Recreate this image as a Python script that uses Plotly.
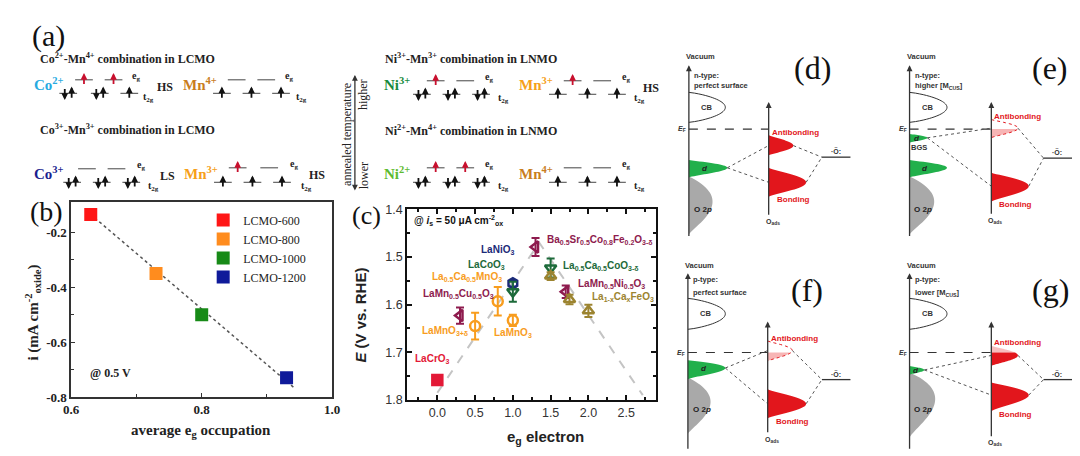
import numpy as np
import plotly.graph_objects as go

# ---------------- Panel (b) data ----------------
b_labels = ["LCMO-600", "LCMO-800", "LCMO-1000", "LCMO-1200"]
b_eg = [0.63, 0.73, 0.80, 0.93]
b_i = [-0.135, -0.35, -0.50, -0.73]
b_fit_x = [0.636, 0.941]
b_fit_y = [-0.147, -0.765]
b_xticks = [0.6, 0.8, 1.0]
b_yticks = [-0.8, -0.6, -0.4, -0.2]
b_colors = ["#ff1616", "#ff8c1e", "#178a17", "#0f1a9a"]

# ---------------- Panel (c) data ----------------
c_names = ["LaCrO3", "LaMn0.5Cu0.5O3", "LaMnO3+d", "La0.5Ca0.5MnO3", "LaMnO3",
           "LaNiO3", "LaCoO3", "BSCF", "La0.5Ca0.5CoO3-d", "LaMn0.5Ni0.5O3",
           "La1-xCaxFeO3 a", "La1-xCaxFeO3 b", "La1-xCaxFeO3 c"]
c_eg = [0.0, 0.3, 0.5, 0.8, 1.0, 1.0, 1.0, 1.3, 1.5, 1.7, 1.5, 1.75, 2.0]
c_E = [1.758, 1.623, 1.645, 1.593, 1.633, 1.555, 1.573, 1.479, 1.523, 1.573, 1.540, 1.589, 1.613]
c_err = [0.008, 0.017, 0.028, 0.030, 0.012, 0.007, 0.021, 0.019, 0.020, 0.013, 0.008, 0.010, 0.013]
c_volcano_x = [0.0, 1.35, 2.72]
c_volcano_y = [1.785, 1.47, 1.79]
c_xticks = [0.0, 0.5, 1.0, 1.5, 2.0, 2.5]
c_yticks = [1.4, 1.5, 1.6, 1.7, 1.8]

MAROON = "#8e1b4e"; ORANGE = "#f89d1e"; NAVY = "#1b2a78"; DGREEN = "#1d6a3a"
OLIVE = "#9c8430"; CRED = "#e31937"
c_symbols = ["square", "triangle-left-open", "circle-open", "circle-open", "circle-open",
             "hexagon-open", "triangle-down-open", "triangle-left-open", "triangle-down-open",
             "triangle-left-open", "triangle-up-open", "triangle-up-open", "triangle-up-open"]
c_colors = [CRED, MAROON, ORANGE, ORANGE, ORANGE, NAVY, DGREEN, MAROON, DGREEN, MAROON,
            OLIVE, OLIVE, OLIVE]

W, H = 1080, 456
SERIF = "Liberation Serif"
SANS = "Liberation Sans"

fig = go.Figure()

def dom_x(a, b):
    return [a / W, b / W]

def dom_y(top, bot):
    return [1 - bot / H, 1 - top / H]

# ---- panel b traces
fig.add_trace(go.Scatter(x=b_fit_x, y=b_fit_y, mode="lines", showlegend=False,
                         line=dict(color="#555555", width=1.5, dash="dot"),
                         xaxis="x", yaxis="y", hoverinfo="skip"))
for lab, xv, yv, col in zip(b_labels, b_eg, b_i, b_colors):
    fig.add_trace(go.Scatter(x=[xv], y=[yv], mode="markers", name=lab,
                             marker=dict(symbol="square", size=13, color=col),
                             xaxis="x", yaxis="y"))

# ---- panel c traces
fig.add_trace(go.Scatter(x=c_volcano_x, y=c_volcano_y, mode="lines", showlegend=False,
                         line=dict(color="#c4c4c4", width=2, dash="dash"),
                         xaxis="x2", yaxis="y2", hoverinfo="skip"))
for xv, yv, ev, sym, col in zip(c_eg, c_E, c_err, c_symbols, c_colors):
    fig.add_trace(go.Scatter(x=[xv], y=[yv], mode="markers", showlegend=False,
                             error_y=dict(type="data", array=[ev], color=col, thickness=2, width=4),
                             marker=dict(symbol=sym, size=10, color=col,
                                         line=dict(color=col, width=2.5)),
                             xaxis="x2", yaxis="y2"))

# overlay pixel axis
fig.add_trace(go.Scatter(x=[None], y=[None], xaxis="x3", yaxis="y3", showlegend=False))

shapes = []
ann = []

def T(x, y, text, size=10, color="#222", family=SERIF, xanchor="center", yanchor="middle",
      angle=0):
    ann.append(dict(x=x, y=y, xref="x3", yref="y3", text=text, showarrow=False,
                    font=dict(size=size, color=color, family=family),
                    xanchor=xanchor, yanchor=yanchor, textangle=angle))

def L(x0, y0, x1, y1, color="#444", width=1.2, dash="solid"):
    shapes.append(dict(type="line", x0=x0, y0=y0, x1=x1, y1=y1, xref="x3", yref="y3",
                       line=dict(color=color, width=width, dash=dash)))

def ARROW(x, ytip, ytail, color="#333", width=1.3, side="end", head=2, size=0.9):
    ann.append(dict(x=x, y=ytip, ax=x, ay=ytail, xref="x3", yref="y3", axref="x3", ayref="y3",
                    text="", showarrow=True, arrowhead=head, arrowsize=size, arrowwidth=width,
                    arrowcolor=color, arrowside=side, standoff=0, startstandoff=0))

def lobe_pts(xa, y0, y1, xp, yp, k=3.0, t0=0.0, t1=1.0):
    t = np.linspace(t0, t1, 40)
    tp = (yp - y0) / (y1 - y0)
    a, b = tp * k, (1 - tp) * k
    f = (t ** a) * ((1 - t) ** b) / ((tp ** a) * ((1 - tp) ** b))
    return xa + (xp - xa) * f, y0 + t * (y1 - y0)

def path_from(xs, ys, xa=None, close=True):
    p = "M " + " L ".join(f"{x:.2f},{y:.2f}" for x, y in zip(xs, ys))
    if close:
        p += f" L {xa:.2f},{ys[-1]:.2f} L {xa:.2f},{ys[0]:.2f} Z"
    return p

def LOBE(xa, y0, y1, xp, yp, fill, k=3.0, line=None, dash="solid", t0=0.0, t1=1.0, close=True):
    xs, ys = lobe_pts(xa, y0, y1, xp, yp, k, t0, t1)
    shapes.append(dict(type="path", path=path_from(xs, ys, xa, close), xref="x3", yref="y3",
                       fillcolor=fill if close else None,
                       line=dict(color=line or "rgba(0,0,0,0)", width=1 if line else 0, dash=dash)))

# ---------------- Panel (a) ----------------
T(33, 22, "(a)", size=30, color="#111", family=SERIF)
T(22, 45, "<b>Co<sup>2+</sup>-Mn<sup>4+</sup> combination in LCMO</b>", size=12, xanchor="left")
T(22, 118, "<b>Co<sup>3+</sup>-Mn<sup>3+</sup> combination in LCMO</b>", size=12, xanchor="left")
T(373, 45, "<b>Ni<sup>3+</sup>-Mn<sup>3+</sup> combination in LNMO</b>", size=12, xanchor="left")
T(373, 119, "<b>Ni<sup>2+</sup>-Mn<sup>4+</sup> combination in LNMO</b>", size=12, xanchor="left")

# electron configurations: "ud" = paired (down+up), "u" = single up, "" = empty
A_IONS = [
    ("Co<sup>2+</sup>", "#27aae1", 33, 71, [69, 99], ["u", "u"], 67, [53, 85, 115], ["ud", "ud", "u"], 81, 122, 134, "HS", 151),
    ("Mn<sup>4+</sup>", "#c97d1e", 187, 71, [224, 254], ["", ""], 67, [209, 239, 269], ["u", "u", "u"], 81, 277, 290, "", 0),
    ("Co<sup>3+</sup>", "#1b1f8f", 33, 163, [72, 102], ["", ""], 159, [57, 87, 117], ["ud", "ud", "ud"], 173, 127, 140, "LS", 154),
    ("Mn<sup>3+</sup>", "#f6a01a", 188, 163, [225, 257], ["u", ""], 158, [210, 240, 270], ["u", "u", "u"], 173, 282, 295, "HS", 306),
    ("Ni<sup>3+</sup>", "#178a3c", 387, 71, [426, 456], ["u", ""], 68, [412, 442, 472], ["ud", "ud", "ud"], 82, 480, 495, "", 0),
    ("Mn<sup>3+</sup>", "#f6a01a", 528, 71, [565, 595], ["u", ""], 68, [550, 580, 610], ["u", "u", "u"], 82, 619, 633, "HS", 645),
    ("Ni<sup>2+</sup>", "#5dbb2f", 387, 163, [426, 456], ["u", "u"], 158, [412, 442, 472], ["ud", "ud", "ud"], 173, 480, 495, "", 0),
    ("Mn<sup>4+</sup>", "#c97d1e", 528, 163, [565, 595], ["", ""], 158, [550, 580, 610], ["u", "u", "u"], 173, 619, 633, "", 0),
]

def electrons(x, y, occ, color):
    kw = dict(color=color, width=1.8, head=2, size=0.75)
    if occ == "u":
        ARROW(x, y - 7, y + 6, **kw)
    elif occ == "ud":
        ARROW(x - 3.5, y + 7, y - 6, **kw)
        ARROW(x + 3.5, y - 7, y + 6, **kw)

for (lab, col, lx, ly, egx, ege, yeg, tx, te, yt, egl, tl, spin, sx) in A_IONS:
    T(lx, ly, f"<b>{lab}</b>", size=15, color=col)
    for x, e in zip(egx, ege):
        L(x - 9, yeg, x + 9, yeg, color="#555", width=1.1)
        electrons(x, yeg, e, "#c8102e")
    for x, e in zip(tx, te):
        L(x - 9, yt, x + 9, yt, color="#555", width=1.1)
        electrons(x, yt, e, "#111")
    T(egl, yeg - 3, "<b>e<sub>g</sub></b>", size=10)
    T(tl, yt + 4, "<b>t<sub>2g</sub></b>", size=10)
    if spin:
        T(sx, (yeg + yt) / 2, f"<b>{spin}</b>", size=12)

ARROW(344, 62, 183, color="#333", width=1.3, side="end+start")
T(336, 124, "annealed temperature", size=12, angle=-90, color="#222")
T(353, 82, "higher", size=12, angle=-90, color="#222")
T(353, 166, "lower", size=12, angle=-90, color="#222")

# ---------------- Panels (d)-(g) ----------------
BANDS = [
    dict(lab="(d)", lab_xy=(808, 55), ax=683, top=52, bot=230, vac=43,
         type_txt=("n-type:", "perfect surface"), type_y=(63, 73),
         cb=(80, 111, 720), ef=118, rax=764, rtop=90, rbot=208,
         d=[(150, 168, 722, 158)], bgs=None, dsrc=0, o2p=(167, 227, 707, 193),
         anti=(124, 145, 789, 135), anti_style="full", bond=(158, 188, 802, 173),
         junc=(818, 147)),
    dict(lab="(e)", lab_xy=(1050, 55), ax=907, top=52, bot=230, vac=43,
         type_txt=("n-type:", "higher [M<sub>CUS</sub>]"), type_y=(63, 73),
         cb=(80, 111, 945), ef=118, rax=990, rtop=90, rbot=207,
         d=[(123, 132, 925, 127), (150, 168, 945, 158)], bgs=(917, 137), dsrc=0,
         o2p=(167, 227, 932, 193),
         anti=(108, 127, 1017, 117), anti_style="faded", bond=(163, 193, 1028, 177),
         junc=(1043, 148)),
    dict(lab="(f)", lab_xy=(803, 284), ax=682, top=267, bot=450, vac=259,
         type_txt=("p-type:", "perfect surface"), type_y=(273, 287),
         cb=(293, 325, 720), ef=349, rax=763, rtop=317, rbot=433,
         d=[(357, 377, 720, 365)], bgs=None, dsrc=0, o2p=(375, 433, 705, 400),
         anti=(337, 358, 788, 347), anti_style="faded", bond=(387, 417, 802, 402),
         junc=(818, 377)),
    dict(lab="(g)", lab_xy=(1050, 284), ax=907, top=267, bot=450, vac=259,
         type_txt=("p-type:", "lower [M<sub>CUS</sub>]"), type_y=(273, 287),
         cb=(293, 325, 945), ef=349, rax=990, rtop=317, rbot=437,
         d=[(363, 372, 922, 367)], bgs=None, dsrc=0, o2p=(370, 437, 933, 397),
         anti=(342, 363, 1017, 352), anti_style="split", bond=(380, 410, 1028, 393),
         junc=(1043, 377)),
]
RED = "#e2161c"
GREEN = "#21b04b"
for p in BANDS:
    ax = p["ax"]
    y0, y1, xp, yp = p["o2p"]
    LOBE(ax, y0, y1, xp, yp, "#a9a9a9", k=2.2)
    for (y0, y1, xp, yp) in p["d"]:
        LOBE(ax, y0, y1, xp, yp, GREEN, k=2.6)
    c0, c1, cxp = p["cb"]
    LOBE(ax, c0, c1, cxp, (c0 + c1) / 2, None, k=1.6, line="#333", close=False)
    T((ax + cxp) / 2 - 1, (c0 + c1) / 2, "<b>CB</b>", size=7.5, family=SANS, color="#333")
    ARROW(ax, p["top"], p["bot"], color="#333", width=1.3)
    ARROW(p["rax"], p["rtop"], p["rbot"], color="#333", width=1.3)
    T(ax + 12, p["vac"], "<b>Vacuum</b>", size=7.5, family=SANS, color="#333")
    T(ax + 3, p["type_y"][0], f"<b>{p['type_txt'][0]}</b>", size=7.5, family=SANS, color="#333", xanchor="left")
    T(ax + 3, p["type_y"][1], f"<b>{p['type_txt'][1]}</b>", size=7.5, family=SANS, color="#333", xanchor="left")
    L(ax, p["ef"], p["rax"], p["ef"], color="#333", width=1.2, dash="dash")
    T(ax - 7, p["ef"], "<b><i>E</i><sub>F</sub></b>", size=7, family=SANS, color="#333")
    for (y0, y1, xp, yp) in p["d"]:
        T(ax + (xp - ax) * 0.42, yp + 1, "<b><i>d</i></b>", size=8, family=SANS, color="#222")
    if p["bgs"]:
        T(p["bgs"][0], p["bgs"][1], "<b>BGS</b>", size=7.5, family=SANS, color="#333")
    y0, y1, xp, yp = p["o2p"]
    T(ax + 14, (y0 + y1) / 2 + 4, "<b>O 2<i>p</i></b>", size=8, family=SANS, color="#222")
    a0, a1, axp, ayp = p["anti"]
    tef = min(max((p["ef"] - a0) / (a1 - a0), 0.0), 1.0)
    if p["anti_style"] == "full":
        LOBE(p["rax"], a0, a1, axp, ayp, RED, k=2.8)
    elif p["anti_style"] == "faded":
        LOBE(p["rax"], a0, a1, axp, ayp, "rgba(240,120,120,0.55)", k=2.8, t0=tef)
        LOBE(p["rax"], a0, a1, axp, ayp, None, k=2.8, line=RED, dash="dot", close=False)
    else:
        LOBE(p["rax"], a0, a1, axp, ayp, "rgba(240,110,110,0.45)", k=2.8, t1=tef)
        LOBE(p["rax"], a0, a1, axp, ayp, RED, k=2.8, t0=tef)
    b0, b1, bxp, byp = p["bond"]
    LOBE(p["rax"], b0, b1, bxp, byp, RED, k=2.8)
    T(p["rax"] + 27, a0 - 3, "<b>Antibonding</b>", size=8, family=SANS, color=RED)
    T(p["rax"] + 25, b1 + 3, "<b>Bonding</b>", size=8, family=SANS, color=RED)
    T(p["rax"] + 4, p["rbot"] + 6, "<b>O<sub>ads</sub></b>", size=7, family=SANS, color="#333")
    dy0, dy1, dxp, dyp = p["d"][p["dsrc"]]
    L(dxp, dyp, p["rax"], ayp, color="#555", width=1, dash="dot")
    L(dxp, dyp, p["rax"], byp, color="#555", width=1, dash="dot")
    jx, jy = p["junc"]
    L(axp, ayp, jx, jy, color="#555", width=1, dash="dot")
    L(bxp, byp, jx, jy, color="#555", width=1, dash="dot")
    L(jx, jy, jx + 29, jy, color="#333", width=1.3)
    T(jx + 14, jy - 6, "<b>·Ö:</b>", size=7, family=SANS, color="#333")
    T(p["lab_xy"][0], p["lab_xy"][1], p["lab"], size=32, family=SERIF, color="#111")

# ---------------- Panel (b) labels ----------------
T(31, 203, "(b)", size=28, color="#111")
T(17, 308, "<b>i (mA cm<sup>-2</sup><sub>oxide</sub>)</b>", size=15, angle=-90, color="#222")
T(188, 430, "<b>average e<sub>g</sub> occupation</b>", size=15, color="#222")
T(96, 370, "<b>@ 0.5 V</b>", size=12, color="#222")

# ---------------- Panel (c) labels ----------------
T(356, 207, "(c)", size=26, color="#111")
T(350, 310, "<b><i>E</i> (V vs. RHE)</b>", size=15, angle=-90, family=SANS, color="#222")
T(537, 437, "<b>e<sub>g</sub> electron</b>", size=15, family=SANS, color="#222")
CL = [
    (402, 213, "@ <i>i</i><sub>s</sub> = 50 μA cm<sup>-2</sup><sub>ox</sub>", "#111"),
    (537, 233, "Ba<sub>0.5</sub>Sr<sub>0.5</sub>Co<sub>0.8</sub>Fe<sub>0.2</sub>O<sub>3-δ</sub>", MAROON),
    (470, 243, "LaNiO<sub>3</sub>", NAVY),
    (457, 259, "LaCoO<sub>3</sub>", DGREEN),
    (420, 271, "La<sub>0.5</sub>Ca<sub>0.5</sub>MnO<sub>3</sub>", ORANGE),
    (553, 260, "La<sub>0.5</sub>Ca<sub>0.5</sub>CoO<sub>3-δ</sub>", DGREEN),
    (568, 278, "LaMn<sub>0.5</sub>Ni<sub>0.5</sub>O<sub>3</sub>", MAROON),
    (583, 292, "La<sub>1-x</sub>Ca<sub>x</sub>FeO<sub>3</sub>", OLIVE),
    (411, 289, "LaMn<sub>0.5</sub>Cu<sub>0.5</sub>O<sub>3</sub>", MAROON),
    (410, 327, "LaMnO<sub>3+δ</sub>", ORANGE),
    (483, 329, "LaMnO<sub>3</sub>", ORANGE),
    (403, 356, "LaCrO<sub>3</sub>", CRED),
]
for x, y, t, col in CL:
    T(x, y, f"<b>{t}</b>", size=10, family=SANS, color=col, xanchor="left")

fig.update_layout(
    width=W, height=H, margin=dict(l=0, r=0, t=0, b=0),
    paper_bgcolor="white", plot_bgcolor="rgba(0,0,0,0)",
    showlegend=True,
    legend=dict(x=190 / W, y=1 - 197 / H, xanchor="left", yanchor="top",
                font=dict(family=SERIF, size=12, color="#222"),
                bgcolor="rgba(0,0,0,0)", itemwidth=30, tracegroupgap=0),
    xaxis=dict(domain=dom_x(56, 321), range=[0.6, 1.0], tickvals=b_xticks,
               ticktext=[f"{v:.1f}" for v in b_xticks], ticks="inside", ticklen=4,
               tickcolor="#333", showline=True, linecolor="#333", linewidth=1.5, mirror=True,
               showgrid=False, zeroline=False, anchor="y",
               minor=dict(tickvals=[0.7, 0.9], ticks="inside", ticklen=3, tickcolor="#333"),
               tickfont=dict(family=SERIF, size=13, color="#222", weight="bold")),
    yaxis=dict(domain=dom_y(193, 395), range=[-0.8, -0.088], tickvals=b_yticks,
               ticktext=[f"{v:.1f}" for v in b_yticks], ticks="inside", ticklen=4,
               tickcolor="#333", showline=True, linecolor="#333", linewidth=1.5, mirror=True,
               showgrid=False, zeroline=False, anchor="x",
               minor=dict(tickvals=[-0.7, -0.5, -0.3], ticks="inside", ticklen=3, tickcolor="#333"),
               tickfont=dict(family=SERIF, size=13, color="#222", weight="bold")),
    xaxis2=dict(domain=dom_x(397, 650), range=[-0.4, 2.9], tickvals=c_xticks,
                ticktext=[f"{v:.1f}" for v in c_xticks], ticks="inside", ticklen=5,
                tickcolor="#111", tickwidth=1.5, showline=True, linecolor="#111", linewidth=2,
                mirror="allticks", showgrid=False, zeroline=False, anchor="y2",
                minor=dict(dtick=0.25, ticks="inside", ticklen=3, tickcolor="#111", tickwidth=1.5),
                tickfont=dict(family=SANS, size=12.5, color="#333")),
    yaxis2=dict(domain=dom_y(201, 398), range=[1.8, 1.4], tickvals=c_yticks,
                ticktext=[f"{v:.1f}" for v in c_yticks], ticks="inside", ticklen=5,
                tickcolor="#111", tickwidth=1.5, showline=True, linecolor="#111", linewidth=2,
                mirror="allticks", showgrid=False, zeroline=False, anchor="x2",
                minor=dict(dtick=0.05, ticks="inside", ticklen=3, tickcolor="#111", tickwidth=1.5),
                tickfont=dict(family=SANS, size=12.5, color="#333")),
    xaxis3=dict(domain=[0, 1], range=[0, W], visible=False, fixedrange=True, anchor="y3"),
    yaxis3=dict(domain=[0, 1], range=[H, 0], visible=False, fixedrange=True, anchor="x3"),
    shapes=shapes, annotations=ann,
)

fig.write_html("out.html")
